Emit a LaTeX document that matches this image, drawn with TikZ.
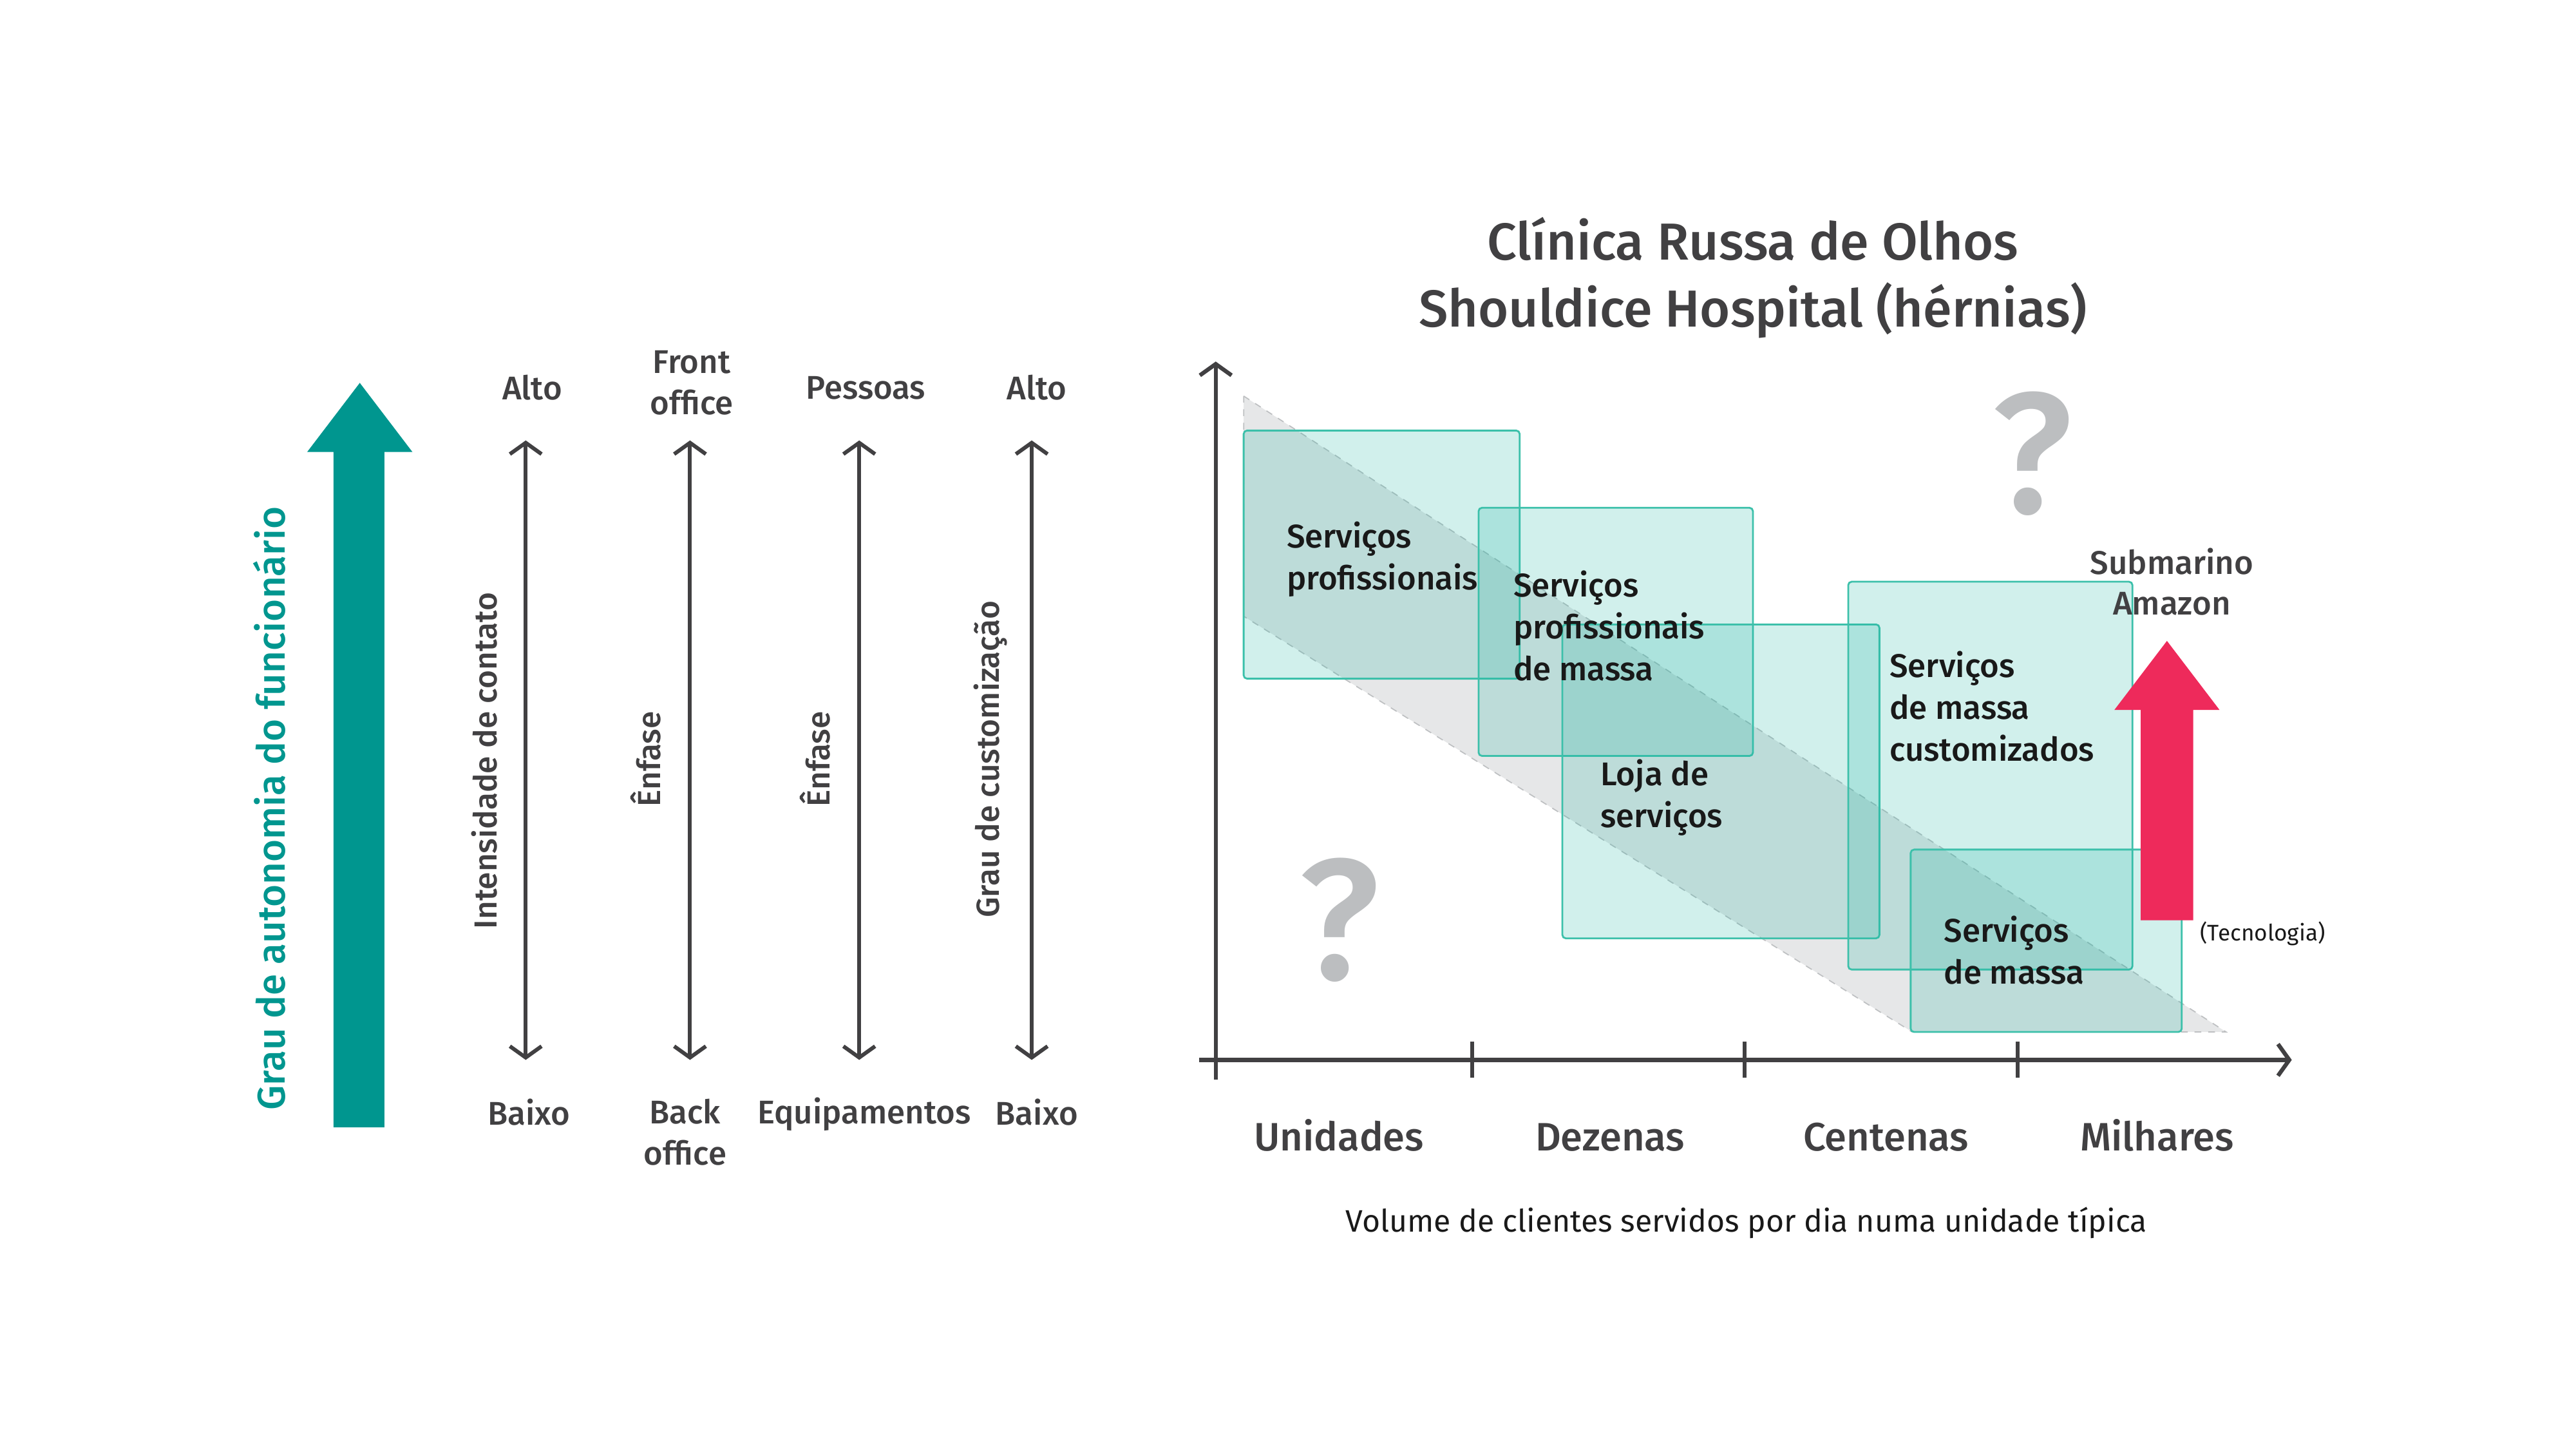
\documentclass[tikz,border=0pt]{standalone}
\usepackage{fontspec}
\setmainfont{Fira Sans}
\IfFontExistsTF{Fira Sans Medium}
  {\newfontfamily\medfont{Fira Sans Medium}}
  {\newcommand\medfont{\rmfamily}}
\usetikzlibrary{positioning,arrows.meta}
\definecolor{petrol}{RGB}{0,150,143}
\definecolor{inkgray}{RGB}{65,64,66}
\definecolor{bandgray}{RGB}{230,231,232}
\definecolor{banddash}{RGB}{190,192,194}
\definecolor{qgray}{RGB}{188,190,192}
\definecolor{boxteal}{RGB}{26,178,160}
\definecolor{boxedge}{RGB}{60,192,170}
\definecolor{techred}{RGB}{238,42,91}
\tikzset{
  >={Straight Barb[length=5pt,width=14pt]},
  scalebar/.style={<->,draw=inkgray,line width=1.7pt},
  axis/.style={->,draw=inkgray,line width=1.8pt},
  tick/.style={draw=inkgray,line width=1.6pt},
  lbl/.style={text=inkgray,font=\medfont\fontsize{14.5}{18.2}\selectfont,align=center,inner sep=0pt},
  sidelbl/.style={lbl,rotate=90,font=\medfont\fontsize{14.1}{17}\selectfont},
  catlbl/.style={text=inkgray,font=\medfont\fontsize{17.5}{21}\selectfont,inner sep=0pt,text height=12.5pt,text depth=0pt},
  band/.style={fill=bandgray,draw=banddash,dashed,line width=0.5pt},
  segbox/.style={draw=boxedge,line width=0.8pt,fill=boxteal,fill opacity=0.2,rounded corners=1.5pt},
  boxtxt/.style={text=black!90,font=\medfont\fontsize{14.5}{18.5}\selectfont,align=left,anchor=north west,inner sep=0pt},
  qmark/.style={text=qgray,font=\medfont\fontsize{76}{76}\selectfont,inner sep=0pt}
}
\begin{document}
\begin{tikzpicture}[x=0.025510cm,y=-0.025510cm]
  \useasboundingbox (0,0) rectangle (1568,882);

  % left: autonomy arrow
  \fill[petrol] (203,686) -- (203,275) -- (187,275) -- (219,233) -- (251,275) -- (234,275) -- (234,686) -- cycle;
  \node[sidelbl,text=petrol,font=\medfont\fontsize{17.1}{20}\selectfont] (auton) at (164,492) {Grau de autonomia do funcionário};

  % left: four scales
  \coordinate (c1t) at (320,268);
  \coordinate (c1b) at (320,645);
  \coordinate (c2t) at (420,268);
  \coordinate (c2b) at (420,645);
  \coordinate (c3t) at (523,268);
  \coordinate (c3b) at (523,645);
  \coordinate (c4t) at (628,268);
  \coordinate (c4b) at (628,645);
  \draw[scalebar] (c1t) -- (c1b);
  \draw[scalebar] (c2t) -- (c2b);
  \draw[scalebar] (c3t) -- (c3b);
  \draw[scalebar] (c4t) -- (c4b);

  \node[lbl] (c1hi) at (324,236) {Alto};
  \node[lbl] (c2hi) at (421,233) {Front\\office};
  \node[lbl] (c3hi) at (527,236) {Pessoas};
  \node[lbl] (c4hi) at (631,236) {Alto};
  \node[lbl] (c1lo) at (322,677) {Baixo};
  \node[lbl] (c2lo) at (417,689) {Back\\office};
  \node[lbl] (c3lo) at (526,678) {Equipamentos};
  \node[lbl] (c4lo) at (631,677) {Baixo};
  \node[sidelbl] (c1tx) at (295,463) {Intensidade de contato};
  \node[sidelbl] (c2tx) at (393,462) {Ênfase};
  \node[sidelbl] (c3tx) at (496,462) {Ênfase};
  \node[sidelbl] (c4tx) at (603,462) {Grau de customização};

  % right: chart
  \node[lbl,font=\medfont\fontsize{23}{29.7}\selectfont] (ttl) at (1067,169) {Clínica Russa de Olhos\\Shouldice Hospital (hérnias)};

  \path[band] (757,241) -- (1355,628) -- (1164,628) -- (757,375) -- cycle;

  \path[segbox] (757,262) rectangle (925,413);
  \path[segbox] (900,309) rectangle (1067,460);
  \path[segbox] (951,380) rectangle (1144,571);
  \path[segbox] (1125,354) rectangle (1298,590);
  \path[segbox] (1163,517) rectangle (1328,628);

  \node[boxtxt] (prof) at (783,317) {Serviços\\profissionais};
  \node[boxtxt] (profm) at (921,347) {Serviços\\profissionais\\de massa};
  \node[boxtxt] (loja) at (974,462) {Loja de\\serviços};
  \node[boxtxt] (cust) at (1150,396) {Serviços\\de massa\\customizados};
  \node[boxtxt] (mass) at (1183,557) {Serviços\\de massa};

  \node[qmark] (qlow) at (815,560) {?};
  \node[qmark] (qhigh) at (1237,276) {?};

  % axes
  \coordinate (ylow) at (740,657);
  \coordinate (ytop) at (740,220);
  \coordinate (xlow) at (730,645);
  \coordinate (xend) at (1395,645);
  \draw[axis] (ylow) -- (ytop);
  \draw[axis] (xlow) -- (xend);
  \coordinate (t1) at (896,645);
  \coordinate (t2) at (1062,645);
  \coordinate (t3) at (1228,645);
  \draw[tick] (t1) ++(0,-11) -- ++(0,22);
  \draw[tick] (t2) ++(0,-11) -- ++(0,22);
  \draw[tick] (t3) ++(0,-11) -- ++(0,22);

  \coordinate (m1) at (815,645);
  \coordinate (m2) at (980,645);
  \coordinate (m3) at (1148,645);
  \coordinate (m4) at (1313,645);
  \node[catlbl,below=27.5pt of m1] (units) {Unidades};
  \node[catlbl,below=27.5pt of m2] (tens) {Dezenas};
  \node[catlbl,below=27.5pt of m3] (hund) {Centenas};
  \node[catlbl,below=27.5pt of m4] (thou) {Milhares};
  \node[lbl,text=black!90,font=\fontsize{13.7}{16}\selectfont] (vol) at (1063,744) {Volume de clientes servidos por dia numa unidade típica};

  % technology push
  \fill[techred] (1303,560) -- (1303,432) -- (1287,432) -- (1319,390) -- (1351,432) -- (1335,432) -- (1335,560) -- cycle;
  \node[lbl] (shops) at (1322,354) {Submarino\\Amazon};
  \node[lbl,text=black!90,font=\fontsize{10}{12}\selectfont,anchor=west] (tech) at (1339,568) {(Tecnologia)};
\end{tikzpicture}
\end{document}
